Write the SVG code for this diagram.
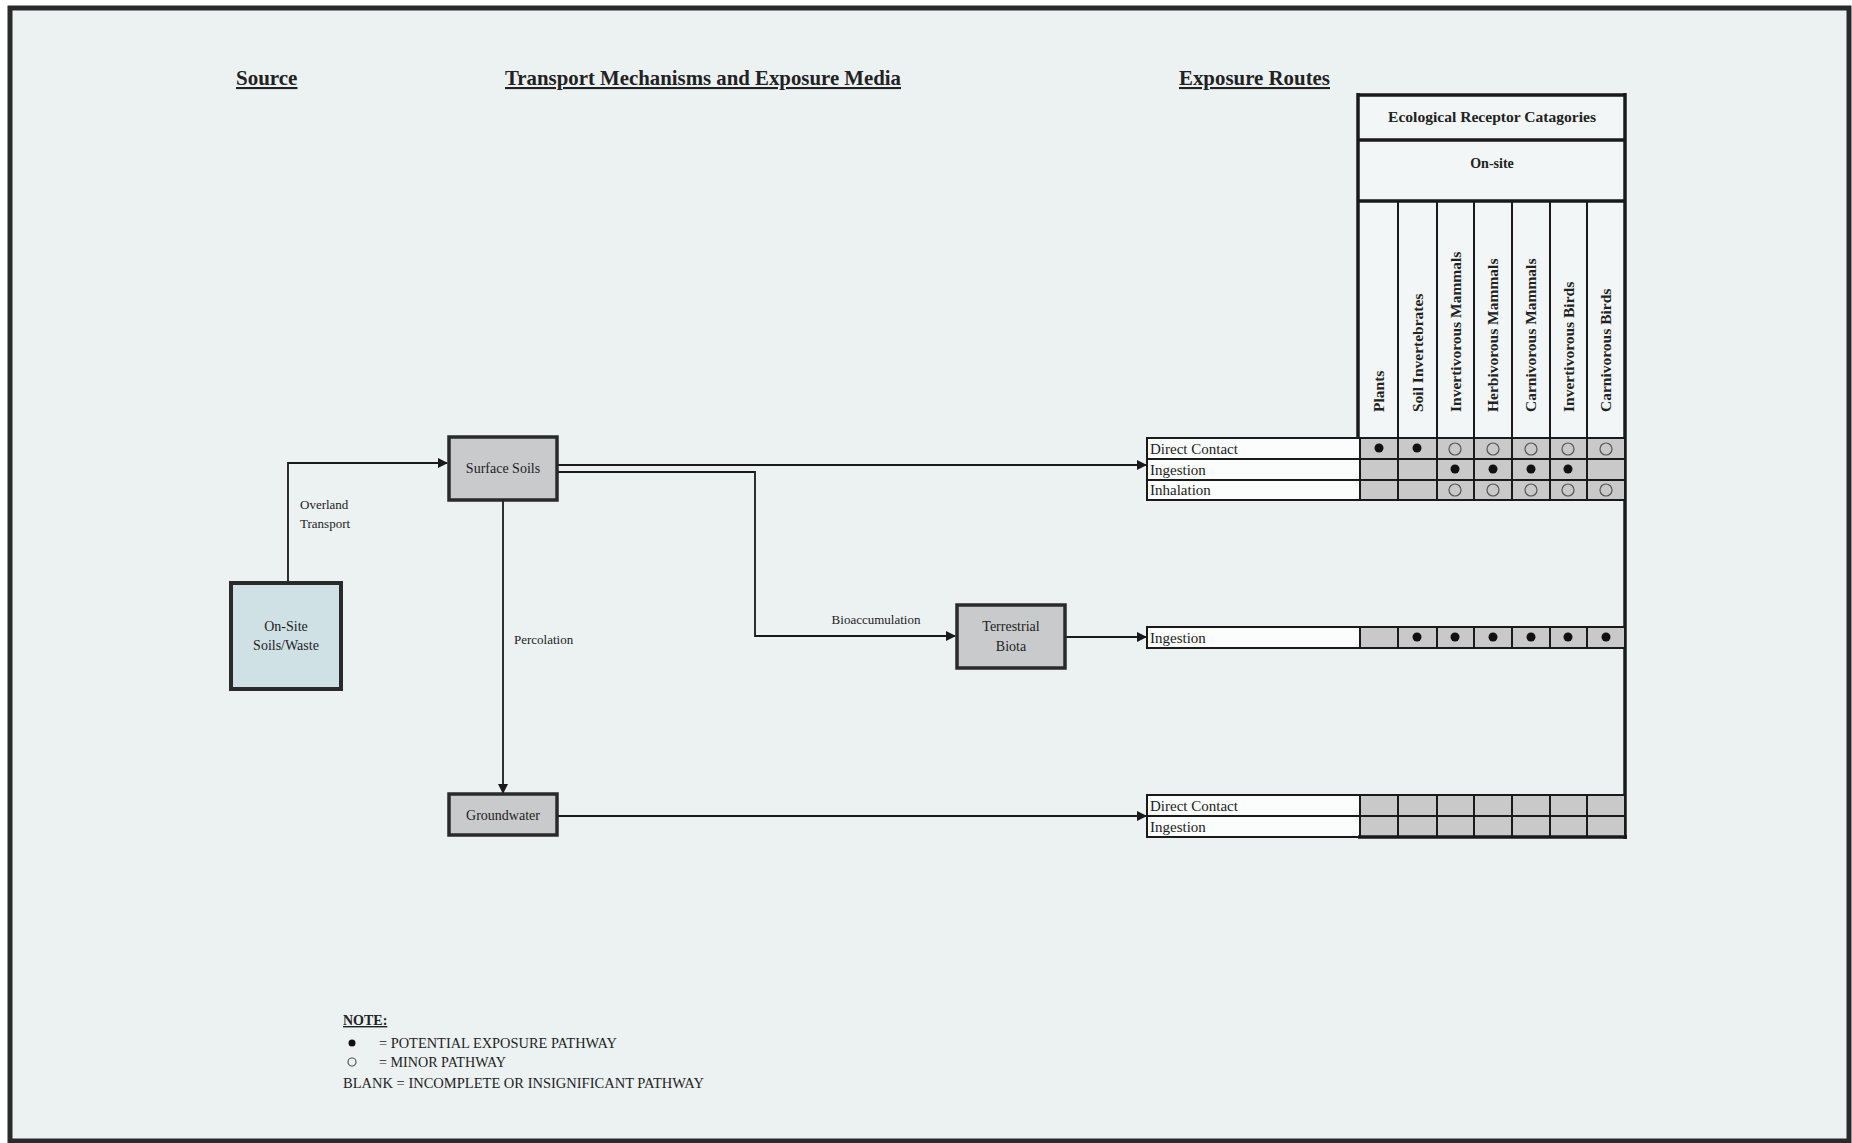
<svg xmlns="http://www.w3.org/2000/svg" width="1852" height="1143" viewBox="0 0 1852 1143">
<style>
.t{font-family:"Liberation Serif","Times New Roman",serif;fill:#222}
.title{font-size:21px;font-weight:bold;text-decoration:underline}
.node{fill:#c9cacc;stroke:#2a2a2a;stroke-width:3.5}
.lbl{font-size:14px;text-anchor:middle}
.edge{fill:none;stroke:#1a1a1a;stroke-width:1.8}
.cell{fill:#c9c9c9}
.lab{fill:#fbfcfc}
.grid{stroke:#1a1a1a;stroke-width:2;fill:none}
.thick{stroke:#1a1a1a;stroke-width:3.5;fill:none}
.route{font-size:15px}
.col{font-size:15.5px;font-weight:bold}
.dot{fill:#111}
.ring{fill:none;stroke:#555;stroke-width:1.2}
.note{font-size:14px}
</style>
<defs>
<marker id="ah" markerWidth="10" markerHeight="10" refX="9" refY="5" orient="auto" markerUnits="userSpaceOnUse">
<path d="M0,0 L10,5 L0,10 z" fill="#1a1a1a"/>
</marker>
</defs>
<rect x="0" y="0" width="1852" height="1143" fill="#ffffff"/>
<rect x="10" y="8" width="1839" height="1133" fill="#ecf1f2" stroke="#2a2a2a" stroke-width="5"/>

<g id="titles">
<text class="t title" x="236" y="85">Source</text>
<text class="t title" x="505" y="85" textLength="396" lengthAdjust="spacingAndGlyphs">Transport Mechanisms and Exposure Media</text>
<text class="t title" x="1179" y="85" textLength="151" lengthAdjust="spacingAndGlyphs">Exposure Routes</text>
</g>

<g id="connectors">
<path class="edge" d="M288,583 V463 H447" marker-end="url(#ah)"/>
<path class="edge" d="M557,465 H1146" marker-end="url(#ah)"/>
<path class="edge" d="M557,472 H755 V636 H955" marker-end="url(#ah)"/>
<path class="edge" d="M503,500 V793" marker-end="url(#ah)"/>
<path class="edge" d="M1065,637 H1146" marker-end="url(#ah)"/>
<path class="edge" d="M557,816 H1146" marker-end="url(#ah)"/>
<text class="t" x="300" y="509" font-size="13">Overland</text>
<text class="t" x="300" y="528" font-size="13">Transport</text>
<text class="t" x="876" y="624" font-size="13" text-anchor="middle">Bioaccumulation</text>
<text class="t" x="514" y="644" font-size="13">Percolation</text>
</g>

<g id="onsite">
<rect x="231" y="583" width="110" height="106" fill="#cfe1e5" stroke="#2a2a2a" stroke-width="4"/>
<text class="t lbl" x="286" y="631">On-Site</text>
<text class="t lbl" x="286" y="650">Soils/Waste</text>
</g>
<g id="surfacesoils">
<rect class="node" x="449" y="437" width="108" height="63"/>
<text class="t lbl" x="503" y="473">Surface Soils</text>
</g>
<g id="groundwater">
<rect class="node" x="449" y="794" width="108" height="41"/>
<text class="t lbl" x="503" y="820">Groundwater</text>
</g>
<g id="terrestrial">
<rect class="node" x="957" y="605" width="108" height="63"/>
<text class="t lbl" x="1011" y="631">Terrestrial</text>
<text class="t lbl" x="1011" y="651">Biota</text>
</g>

<g id="receptor-table">
<rect x="1358" y="95" width="267" height="342" fill="#f3f6f6"/>
<line class="thick" x1="1358" y1="140" x2="1625" y2="140"/>
<line class="thick" x1="1358" y1="201" x2="1625" y2="201"/>
<line class="thick" x1="1358" y1="95" x2="1625" y2="95"/>
<line class="thick" x1="1358" y1="93" x2="1358" y2="438"/>
<line class="thick" x1="1625" y1="93" x2="1625" y2="839"/>
<g class="grid">
<line x1="1398" y1="201" x2="1398" y2="437"/>
<line x1="1437" y1="201" x2="1437" y2="437"/>
<line x1="1474" y1="201" x2="1474" y2="437"/>
<line x1="1512" y1="201" x2="1512" y2="437"/>
<line x1="1550" y1="201" x2="1550" y2="437"/>
<line x1="1587" y1="201" x2="1587" y2="437"/>
</g>
<text class="t" x="1492" y="122" font-size="14" font-weight="bold" text-anchor="middle" textLength="208" lengthAdjust="spacingAndGlyphs">Ecological Receptor Catagories</text>
<text class="t" x="1492" y="168" font-size="14" font-weight="bold" text-anchor="middle">On-site</text>
<text class="t col" transform="translate(1384,412) rotate(-90)">Plants</text>
<text class="t col" transform="translate(1423,412) rotate(-90)">Soil Invertebrates</text>
<text class="t col" transform="translate(1461,412) rotate(-90)">Invertivorous Mammals</text>
<text class="t col" transform="translate(1498,412) rotate(-90)">Herbivorous Mammals</text>
<text class="t col" transform="translate(1536,412) rotate(-90)">Carnivorous Mammals</text>
<text class="t col" transform="translate(1574,412) rotate(-90)">Invertivorous Birds</text>
<text class="t col" transform="translate(1611,412) rotate(-90)">Carnivorous Birds</text>
</g>

<g id="rows-surface">
<rect class="lab" x="1147" y="438" width="213" height="62"/>
<rect class="cell" x="1360" y="438" width="265" height="62"/>
<g class="grid">
<rect x="1147" y="438" width="478" height="62"/>
<line x1="1147" y1="459" x2="1625" y2="459"/>
<line x1="1147" y1="480" x2="1625" y2="480"/>
<line x1="1360" y1="438" x2="1360" y2="500"/>
<line x1="1398" y1="438" x2="1398" y2="500"/>
<line x1="1437" y1="438" x2="1437" y2="500"/>
<line x1="1474" y1="438" x2="1474" y2="500"/>
<line x1="1512" y1="438" x2="1512" y2="500"/>
<line x1="1550" y1="438" x2="1550" y2="500"/>
<line x1="1587" y1="438" x2="1587" y2="500"/>
</g>
<text class="t route" x="1150" y="454">Direct Contact</text>
<text class="t route" x="1150" y="475">Ingestion</text>
<text class="t route" x="1150" y="495">Inhalation</text>
<circle class="dot" cx="1379" cy="448" r="4.5"/>
<circle class="dot" cx="1417" cy="448" r="4.5"/>
<circle class="ring" cx="1455" cy="449" r="6"/>
<circle class="ring" cx="1493" cy="449" r="6"/>
<circle class="ring" cx="1531" cy="449" r="6"/>
<circle class="ring" cx="1568" cy="449" r="6"/>
<circle class="ring" cx="1606" cy="449" r="6"/>
<circle class="dot" cx="1455" cy="469" r="4.5"/>
<circle class="dot" cx="1493" cy="469" r="4.5"/>
<circle class="dot" cx="1531" cy="469" r="4.5"/>
<circle class="dot" cx="1568" cy="469" r="4.5"/>
<circle class="ring" cx="1455" cy="490" r="6"/>
<circle class="ring" cx="1493" cy="490" r="6"/>
<circle class="ring" cx="1531" cy="490" r="6"/>
<circle class="ring" cx="1568" cy="490" r="6"/>
<circle class="ring" cx="1606" cy="490" r="6"/>
</g>

<g id="rows-biota">
<rect class="lab" x="1147" y="627" width="213" height="21"/>
<rect class="cell" x="1360" y="627" width="265" height="21"/>
<g class="grid">
<rect x="1147" y="627" width="478" height="21"/>
<line x1="1360" y1="627" x2="1360" y2="648"/>
<line x1="1398" y1="627" x2="1398" y2="648"/>
<line x1="1437" y1="627" x2="1437" y2="648"/>
<line x1="1474" y1="627" x2="1474" y2="648"/>
<line x1="1512" y1="627" x2="1512" y2="648"/>
<line x1="1550" y1="627" x2="1550" y2="648"/>
<line x1="1587" y1="627" x2="1587" y2="648"/>
</g>
<text class="t route" x="1150" y="643">Ingestion</text>
<circle class="dot" cx="1417" cy="637" r="4.5"/>
<circle class="dot" cx="1455" cy="637" r="4.5"/>
<circle class="dot" cx="1493" cy="637" r="4.5"/>
<circle class="dot" cx="1531" cy="637" r="4.5"/>
<circle class="dot" cx="1568" cy="637" r="4.5"/>
<circle class="dot" cx="1606" cy="637" r="4.5"/>
</g>

<g id="rows-groundwater">
<rect class="lab" x="1147" y="795" width="213" height="42"/>
<rect class="cell" x="1360" y="795" width="265" height="42"/>
<g class="grid">
<rect x="1147" y="795" width="478" height="42"/>
<line x1="1147" y1="816" x2="1625" y2="816"/>
<line x1="1360" y1="795" x2="1360" y2="837"/>
<line x1="1398" y1="795" x2="1398" y2="837"/>
<line x1="1437" y1="795" x2="1437" y2="837"/>
<line x1="1474" y1="795" x2="1474" y2="837"/>
<line x1="1512" y1="795" x2="1512" y2="837"/>
<line x1="1550" y1="795" x2="1550" y2="837"/>
<line x1="1587" y1="795" x2="1587" y2="837"/>
</g>
<line class="thick" x1="1358" y1="837" x2="1627" y2="837"/>
<text class="t route" x="1150" y="811">Direct Contact</text>
<text class="t route" x="1150" y="832">Ingestion</text>
</g>

<g id="legend">
<text class="t note" x="343" y="1025" font-weight="bold" text-decoration="underline">NOTE:</text>
<circle class="dot" cx="352" cy="1043" r="3.5"/>
<text class="t note" x="379" y="1048" textLength="238" lengthAdjust="spacingAndGlyphs">= POTENTIAL EXPOSURE PATHWAY</text>
<circle class="ring" cx="352" cy="1062" r="4"/>
<text class="t note" x="379" y="1067" textLength="127" lengthAdjust="spacingAndGlyphs">= MINOR PATHWAY</text>
<text class="t note" x="343" y="1088" textLength="361" lengthAdjust="spacingAndGlyphs">BLANK = INCOMPLETE OR INSIGNIFICANT PATHWAY</text>
</g>
</svg>
